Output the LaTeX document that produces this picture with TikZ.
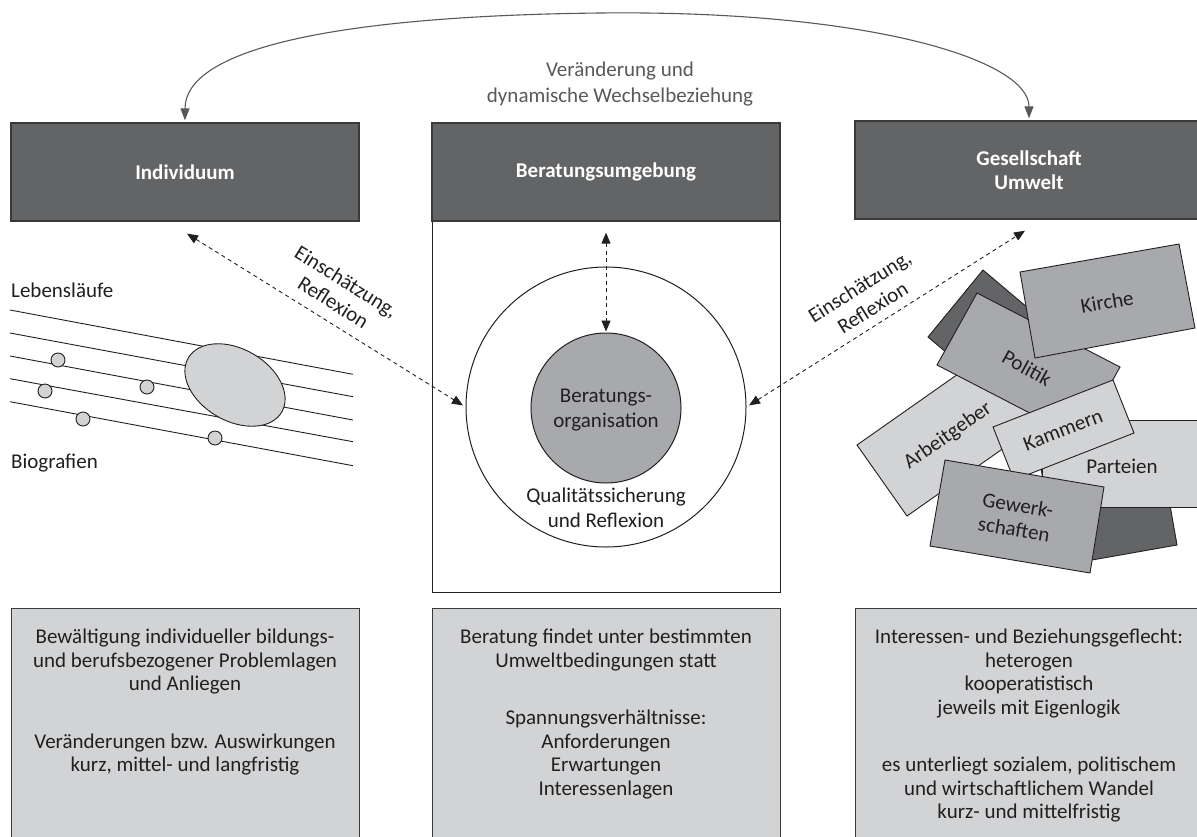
\documentclass[tikz,border=0pt]{standalone}
\usepackage{fontspec}
\setmainfont{Carlito}
\usetikzlibrary{arrows.meta,calc}
\definecolor{hdrfill}{HTML}{636466}
\definecolor{hdrline}{HTML}{3A3A3B}
\definecolor{midfill}{HTML}{A7A9AC}
\definecolor{lightfill}{HTML}{D1D3D4}
\definecolor{txt}{HTML}{231F20}
\definecolor{arcgray}{HTML}{58595B}
\begin{document}
\begin{tikzpicture}[x=1pt,y=-1pt,
  hdrbox/.style={draw=hdrline, fill=hdrfill, line width=1.3pt, minimum width=348pt, minimum height=98pt, inner sep=0pt, text=white, font=\bfseries\fontsize{21}{24}\selectfont, align=center},
  envbox/.style={draw=txt, line width=1pt, fill=white, minimum width=348pt, minimum height=371pt, inner sep=0pt},
  infobox/.style={draw=hdrline, fill=lightfill, line width=1pt, minimum width=348pt, minimum height=240pt, inner sep=0pt, anchor=north},
  infotext/.style={anchor=north, align=center, text=txt, inner sep=0pt, font=\fontsize{21}{23.5}\selectfont},
  lbl/.style={text=txt, inner sep=0pt, align=center, font=\fontsize{21}{24.5}\selectfont},
  tile/.style={draw=txt, line width=0.9pt},
  dsh/.style={dash pattern=on 4pt off 3.5pt, line width=0.9pt, draw=txt, {Triangle[length=11pt,width=9pt]}-{Triangle[length=11pt,width=9pt]}},
  arcline/.style={draw=arcgray, line width=1.1pt, {Triangle[length=12pt,width=9pt]}-{Triangle[length=12pt,width=9pt]}},
  bio/.style={draw=txt, line width=0.9pt},
  dot/.style={draw=txt, fill=lightfill, line width=0.9pt},
]
\fill[white] (0,0) rectangle (1197,836);
\useasboundingbox (0,0) rectangle (1197,836);

% --- middle environment box and circles
\node[envbox] (env) at (606,406.5) {};
\node[hdrbox] (ind) at (185,172) {Individuum};
\node[hdrbox] (ber) at (606,172) {Beratungsumgebung};
\node[hdrbox] (ges) at (1029,170) {Gesellschaft\\Umwelt};

\node[circle, draw=txt, line width=1pt, minimum size=280pt, inner sep=0pt] (outer) at (606,407) {};
\node[circle, draw=txt, fill=midfill, line width=1pt, minimum size=150pt, inner sep=0pt] (inner) at (606,408) {};
\node[lbl] (orgtxt) at (606,410) {Beratungs-\\organisation};
\node[lbl] (qstxt) at (606,508) {Qualitätssicherung\\und Reflexion};

% --- top arc
\draw[arcline, shorten <=2pt, shorten >=2pt] (ind.north) .. controls (185,50) and (330,16) .. (600,13)
   .. controls (870,10) and (1029,60) .. (ges.north);
\node[text=arcgray, inner sep=0pt, align=center, font=\fontsize{21}{26}\selectfont] (chg) at (620,84) {Veränderung und\\dynamische Wechselbeziehung};

% --- dashed arrows
\coordinate (indarr) at ($(ind.south)+(2,12)$);
\coordinate (berarr) at ($(ber.south)+(0,11)$);
\coordinate (gesarr) at ($(ges.south)+(-4,11)$);
\draw[dsh, shorten >=3pt] (indarr) -- (outer.west);
\draw[dsh, shorten >=1pt] (berarr) -- (inner.north);
\draw[dsh, shorten <=3pt] (outer.east) -- (gesarr);
\node[lbl, rotate=-32] (evl) at (340,292) {Einschätzung,\\Reflexion};
\node[lbl, rotate=32] (evr) at (866,297) {Einschätzung,\\Reflexion};

% --- biographies
\node[lbl, anchor=west] (leb) at (11,290) {Lebensläufe};
\node[lbl, anchor=west] (biog) at (11,463) {Biografien};
\draw[bio] (10,310) -- (353,374.3);
\draw[bio] (10,333) -- (353,396.7);
\draw[bio] (10,356) -- (353,420);
\draw[bio] (10,378.7) -- (353,441.7);
\draw[bio] (10,401.7) -- (353,465.7);
\draw[dot, rotate around={-30:(235,385)}] (235,385) ellipse [x radius=54, y radius=36];
\draw[dot] (58,360) circle [radius=7];
\draw[dot] (45,391) circle [radius=7];
\draw[dot] (83,419) circle [radius=7];
\draw[dot] (147,387) circle [radius=7];
\draw[dot] (215,438) circle [radius=7];

% --- society tiles
\filldraw[tile, fill=hdrfill] (983,270) -- (1067,341) -- (1012,408) -- (928,337) -- cycle;
\filldraw[tile, fill=hdrfill] (1039,457) -- (1158,437) -- (1177,545) -- (1058,566) -- cycle;
\filldraw[tile, fill=lightfill] (857,445) -- (988,353) -- (1038,424) -- (907,516) -- cycle;
\node[lbl, rotate=35] (arb) at (948,436) {Arbeitgeber};
\filldraw[tile, fill=midfill] (977,293) -- (1120,367) -- (1080,439) -- (937,365) -- cycle;
\node[lbl, rotate=-29] (pol) at (1027,368) {Politik};
\filldraw[tile, fill=midfill] (1020,272) -- (1179,244) -- (1195,328) -- (1035,358) -- cycle;
\node[lbl, rotate=10] (kir) at (1107,302) {Kirche};
\filldraw[tile, fill=lightfill] (1042,420) -- (1210,420) -- (1210,507) -- (1042,507) -- cycle;
\node[lbl] (par) at (1122,466) {Parteien};
\filldraw[tile, fill=lightfill] (993,427) -- (1113,380) -- (1134,433) -- (1014,480) -- cycle;
\node[lbl, rotate=21] (kam) at (1063,430) {Kammern};
\filldraw[tile, fill=midfill] (945,460) -- (1104,487) -- (1090,573) -- (930,546) -- cycle;
\node[lbl, rotate=-9.5] (gew) at (1016,517) {Gewerk-\\schaften};

% --- bottom info boxes
\node[infobox] (b1) at (185,608) {};
\node[infobox] (b2) at (606,608) {};
\node[infobox] (b3) at (1029,608) {};
\node[infotext] (t1) at ($(b1.north)+(0,21)$) {Bewältigung individueller bildungs-\\und berufsbezogener Problemlagen\\und Anliegen\\[34pt]Veränderungen bzw. Auswirkungen\\kurz, mittel- und langfristig};
\node[infotext] (t2) at ($(b2.north)+(0,21)$) {Beratung findet unter bestimmten\\Umweltbedingungen statt\\[34pt]Spannungsverhältnisse:\\Anforderungen\\Erwartungen\\Interessenlagen};
\node[infotext] (t3) at ($(b3.north)+(0,21)$) {Interessen- und Beziehungsgeflecht:\\heterogen\\kooperatistisch\\jeweils mit Eigenlogik\\[34pt]es unterliegt sozialem, politischem\\und wirtschaftlichem Wandel\\kurz- und mittelfristig};
\end{tikzpicture}
\end{document}
